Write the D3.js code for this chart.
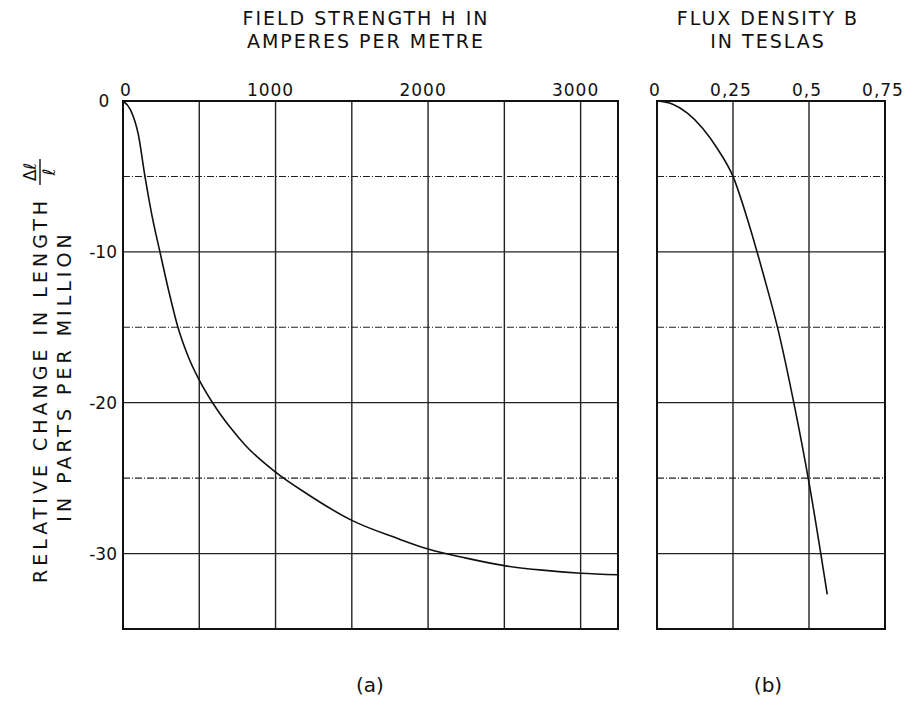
<!DOCTYPE html>
<html>
<head>
<meta charset="utf-8">
<script src="https://cdn.jsdelivr.net/npm/d3@7"></script>
<style>
  html, body { margin: 0; padding: 0; background: #fff; }
  svg text { font-family: "DejaVu Sans", "Liberation Sans", sans-serif; fill: #111; }
</style>
</head>
<body>
<svg id="chart" width="904" height="715"></svg>
<script>
// ---- data ----
const fieldH = [0, 50, 100, 144, 190, 242, 300, 360, 430, 500, 600, 700, 800, 1000, 1200, 1500, 1800, 2000, 2250, 2500, 2750, 3000, 3245];
const strainA = [0, -0.6, -2.2, -5, -7.6, -10, -12.6, -15, -17, -18.5, -20.2, -21.6, -22.8, -24.6, -26.0, -27.8, -29.0, -29.7, -30.3, -30.8, -31.1, -31.3, -31.4];
const fluxB = [0, 0.05, 0.1, 0.15, 0.2, 0.25, 0.3, 0.35, 0.4, 0.45, 0.5, 0.56];
const strainB = [0, -0.2, -0.8, -1.8, -3.2, -5, -8, -11.5, -15.3, -20, -25.3, -32.7];
const hTicks = [0, 1000, 2000, 3000];
const hGrid = [500, 1000, 1500, 2000, 2500, 3000];
const bTicks = [0, 0.25, 0.5, 0.75];
const bTickLabels = ["0", "0,25", "0,5", "0,75"];
const yTicks = [-10, -20, -30];
const yGrid = [-5, -10, -15, -20, -25, -30];
const titleA = ["FIELD STRENGTH H IN", "AMPERES PER METRE"];
const titleB = ["FLUX DENSITY B", "IN TESLAS"];
const yTitle = ["RELATIVE CHANGE IN LENGTH", "IN PARTS PER MILLION"];
const panelLabels = ["(a)", "(b)"];

(function () {
const svg = d3.select("#chart");
const plotTop = 101, plotBottom = 629;
const y = d3.scaleLinear().domain([0, -35]).range([plotTop, plotBottom]);
const xA = d3.scaleLinear().domain([0, 3245]).range([123, 618]);
const xB = d3.scaleLinear().domain([0, 0.75]).range([657, 885]);

function gridPanel(x, vGrid) {
  const g = svg.append("g");
  g.selectAll("line.h").data(yGrid).join("line")
    .attr("x1", x.range()[0]).attr("x2", x.range()[1])
    .attr("y1", d => y(d)).attr("y2", d => y(d))
    .attr("stroke", "#222")
    .attr("stroke-width", d => d % 10 === 0 ? 1.3 : 1.1)
    .attr("stroke-dasharray", d => d % 10 === 0 ? null : "7,2,1,2");
  g.selectAll("line.v").data(vGrid).join("line")
    .attr("y1", plotTop).attr("y2", plotBottom)
    .attr("x1", d => x(d)).attr("x2", d => x(d))
    .attr("stroke", "#222").attr("stroke-width", 1.4);
  g.append("rect")
    .attr("x", x.range()[0]).attr("y", plotTop)
    .attr("width", x.range()[1] - x.range()[0]).attr("height", plotBottom - plotTop)
    .attr("fill", "none").attr("stroke", "#111").attr("stroke-width", 2);
}

gridPanel(xA, hGrid);
gridPanel(xB, [0.25, 0.5]);

const lineA = d3.line().x((d, i) => xA(fieldH[i])).y(d => y(d)).curve(d3.curveMonotoneX);
svg.append("path").attr("d", lineA(strainA))
  .attr("fill", "none").attr("stroke", "#111").attr("stroke-width", 1.6);
const lineB = d3.line().x((d, i) => xB(fluxB[i])).y(d => y(d)).curve(d3.curveMonotoneX);
svg.append("path").attr("d", lineB(strainB))
  .attr("fill", "none").attr("stroke", "#111").attr("stroke-width", 1.6);

svg.selectAll("text.ha").data(hTicks).join("text")
  .attr("x", d => xA(d) + (d === 0 ? 3 : -5)).attr("y", 96)
  .attr("text-anchor", "middle").attr("font-size", 17).attr("letter-spacing", 1)
  .text(d => d);
svg.selectAll("text.hb").data(bTicks).join("text")
  .attr("x", d => xB(d) - 2).attr("y", 96)
  .attr("text-anchor", "middle").attr("font-size", 17).attr("letter-spacing", 1)
  .text((d, i) => bTickLabels[i]);

svg.append("text").attr("x", 104).attr("y", y(0) + 6)
  .attr("text-anchor", "middle").attr("font-size", 17).text("0");
svg.selectAll("text.y").data(yTicks).join("text")
  .attr("x", 117).attr("y", d => y(d) + 6)
  .attr("text-anchor", "end").attr("font-size", 17)
  .text(d => "-" + Math.abs(d));

titleA.forEach((t, i) => svg.append("text").attr("x", 366).attr("y", 25 + i * 23)
  .attr("text-anchor", "middle").attr("font-size", 19).attr("letter-spacing", 2).text(t));
titleB.forEach((t, i) => svg.append("text").attr("x", 768).attr("y", 25 + i * 23)
  .attr("text-anchor", "middle").attr("font-size", 19).attr("letter-spacing", 2).text(t));

const yt = svg.append("g").attr("transform", "translate(0,390) rotate(-90)");
yt.append("text").attr("x", 0).attr("y", 47).attr("text-anchor", "middle")
  .attr("font-size", 19).attr("letter-spacing", 4).text(yTitle[0]);
yt.append("text").attr("x", 14).attr("y", 71).attr("text-anchor", "middle")
  .attr("font-size", 19).attr("letter-spacing", 4).text(yTitle[1]);
yt.append("text").attr("x", 218).attr("y", 36).attr("text-anchor", "middle")
  .attr("font-size", 17).text("Δℓ");
yt.append("line").attr("x1", 205).attr("x2", 231).attr("y1", 40).attr("y2", 40)
  .attr("stroke", "#111").attr("stroke-width", 1.4);
yt.append("text").attr("x", 218).attr("y", 55).attr("text-anchor", "middle")
  .attr("font-size", 17).text("ℓ");

svg.append("text").attr("x", 370).attr("y", 692).attr("text-anchor", "middle")
  .attr("font-size", 20).text(panelLabels[0]);
svg.append("text").attr("x", 768).attr("y", 692).attr("text-anchor", "middle")
  .attr("font-size", 20).text(panelLabels[1]);
})();
</script>
</body>
</html>
